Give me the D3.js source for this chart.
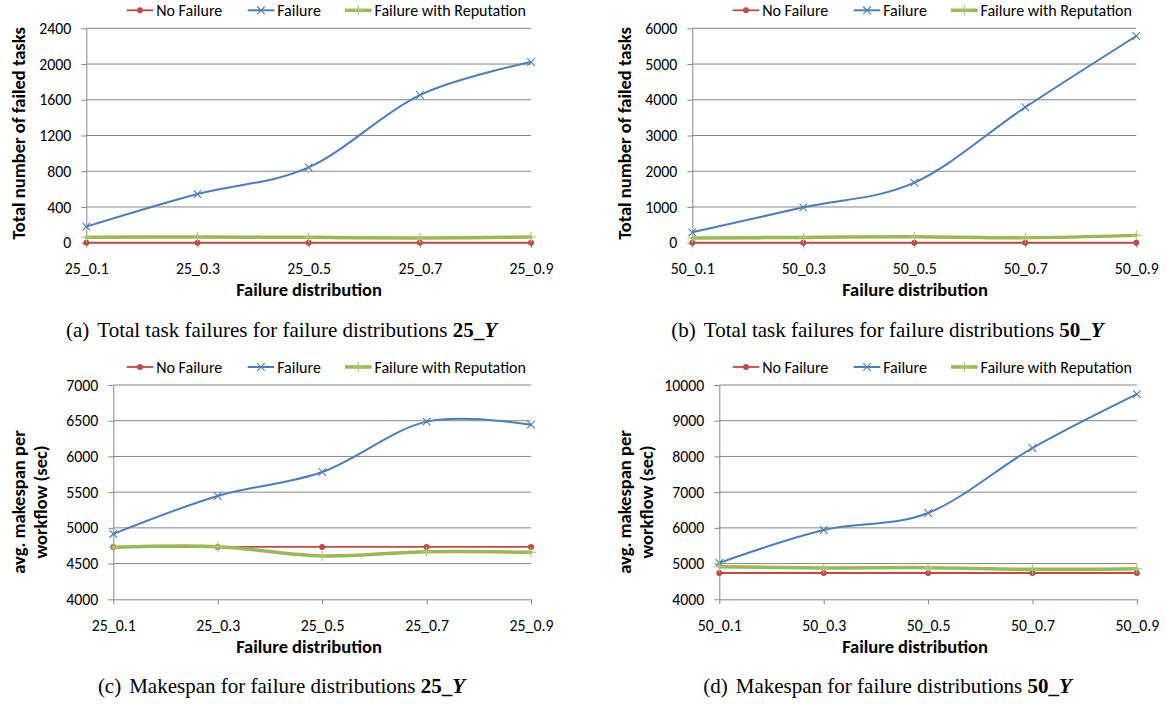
<!DOCTYPE html>
<html>
<head>
<meta charset="utf-8">
<script src="https://cdn.jsdelivr.net/npm/d3@7"></script>
<style>
  body { margin: 0; background: #fff; }
  svg { display: block; }
</style>
</head>
<body>
<svg id="fig" width="1167" height="704"></svg>
<script>

// ---- data ----
var categories25 = ["25_0.1", "25_0.3", "25_0.5", "25_0.7", "25_0.9"];
var categories50 = ["50_0.1", "50_0.3", "50_0.5", "50_0.7", "50_0.9"];

var seriesNames = ["No Failure", "Failure", "Failure with Reputation"];

// (a) total failed tasks, 25_Y
var failedNoFailure25 = [0, 0, 0, 0, 0];
var failedFailure25   = [180, 545, 843, 1653, 2022];
var failedRep25       = [62, 64, 60, 52, 63];

// (b) total failed tasks, 50_Y
var failedNoFailure50 = [0, 0, 0, 0, 0];
var failedFailure50   = [290, 990, 1680, 3790, 5785];
var failedRep50       = [131, 149, 168, 140, 205];

// (c) makespan, 25_Y
var makespanNoFailure25 = [4733, 4733, 4733, 4733, 4733];
var makespanFailure25   = [4915, 5446, 5782, 6487, 6445];
var makespanRep25       = [4728, 4737, 4607, 4667, 4658];

// (d) makespan, 50_Y
var makespanNoFailure50 = [4737, 4737, 4737, 4737, 4737];
var makespanFailure50   = [5020, 5940, 6417, 8236, 9745];
var makespanRep50       = [4914, 4877, 4886, 4840, 4857];

var ticksFailed25   = [0, 400, 800, 1200, 1600, 2000, 2400];
var ticksFailed50   = [0, 1000, 2000, 3000, 4000, 5000, 6000];
var ticksMakespan25 = [4000, 4500, 5000, 5500, 6000, 6500, 7000];
var ticksMakespan50 = [4000, 5000, 6000, 7000, 8000, 9000, 10000];

var titleFailed   = ["Total number of failed tasks"];
var titleMakespan = ["avg. makespan per", "workflow (sec)"];
var xTitle = "Failure distribution";

var captions = [
  ["(a)", "Total task failures for failure distributions ", "25_", "Y"],
  ["(b)", "Total task failures for failure distributions ", "50_", "Y"],
  ["(c)", "Makespan for failure distributions ", "25_", "Y"],
  ["(d)", "Makespan for failure distributions ", "50_", "Y"]
];

// ---- look ----
var colors = ["#BE4B48", "#4A7EBB", "#98B954"];
var lineWidths = [1.8, 2, 3.5];
var gridColor = "#868686";
var chartFont = "Carlito, Calibri, Lato, sans-serif";
var captionFont = "'Liberation Serif', 'Times New Roman', serif";

var svg = d3.select("#fig");
svg.append("rect").attr("width", 1167).attr("height", 704).attr("fill", "#fff");

var panels = [
  { ox: 0,   left: 86.3,  right: 531, top: 28.3, bottom: 242.7, cats: categories25,
    series: [failedNoFailure25, failedFailure25, failedRep25], ticks: ticksFailed25,
    yTitle: titleFailed, yTitleY: 133.5, caption: captions[0] },
  { ox: 606, left: 86.3,  right: 530.3, top: 28.3, bottom: 242.7, cats: categories50,
    series: [failedNoFailure50, failedFailure50, failedRep50], ticks: ticksFailed50,
    yTitle: titleFailed, yTitleY: 133.5, caption: captions[1] },
  { ox: 0,   left: 113.3, right: 531, top: 385, bottom: 599.3, cats: categories25,
    series: [makespanNoFailure25, makespanFailure25, makespanRep25], ticks: ticksMakespan25,
    yTitle: titleMakespan, yTitleY: 502, caption: captions[2] },
  { ox: 606, left: 113.3, right: 530.9, top: 385, bottom: 599.3, cats: categories50,
    series: [makespanNoFailure50, makespanFailure50, makespanRep50], ticks: ticksMakespan50,
    yTitle: titleMakespan, yTitleY: 502, caption: captions[3] }
];

// legend entry starts (relative to panel)
var legendStarts = [126.7, 247.7, 345];

function drawMarker(g, k, cx, cy){
  if (k == 0){
    g.append("circle").attr("cx", cx).attr("cy", cy).attr("r", 3)
      .attr("fill", colors[0]);
  }
  else if (k == 1){
    var s = 3.8;
    g.append("path")
      .attr("d", "M" + (cx - s) + "," + (cy - s) + "L" + (cx + s) + "," + (cy + s) +
                 "M" + (cx - s) + "," + (cy + s) + "L" + (cx + s) + "," + (cy - s))
      .attr("stroke", colors[1]).attr("stroke-width", 1.1).attr("fill", "none");
  }
  else {
    var s = 5;
    g.append("path")
      .attr("d", "M" + (cx - s) + "," + cy + "L" + (cx + s) + "," + cy +
                 "M" + cx + "," + (cy - s) + "L" + cx + "," + (cy + s))
      .attr("stroke", "#A9CB6A").attr("stroke-width", 1.1).attr("fill", "none");
  }
}

function drawPanel(p){
  var g = svg.append("g").attr("transform", "translate(" + p.ox + ",0)");

  var x = d3.scalePoint().domain(p.cats).range([p.left, p.right]);
  var y = d3.scaleLinear().domain([p.ticks[0], p.ticks[p.ticks.length - 1]]).range([p.bottom, p.top]);

  // gridlines
  g.append("g").selectAll("line")
    .data(p.ticks.slice(1))
    .enter().append("line")
      .attr("x1", p.left).attr("x2", p.right)
      .attr("y1", function(d){ return y(d); }).attr("y2", function(d){ return y(d); })
      .attr("stroke", gridColor).attr("stroke-width", 1);

  // axes
  var ya = g.append("g")
      .attr("transform", "translate(" + p.left + ",0)")
      .call(d3.axisLeft(y).tickValues(p.ticks).tickFormat(d3.format("d"))
              .tickSize(5).tickSizeOuter(0).tickPadding(10));
  var xa = g.append("g")
      .attr("transform", "translate(0," + p.bottom + ")")
      .call(d3.axisBottom(x).tickSize(5).tickSizeOuter(0).tickPadding(15));
  [ya, xa].forEach(function(a){
    a.attr("color", gridColor).attr("font-family", chartFont).attr("font-size", 15.8);
    a.selectAll("text").attr("fill", "#000");
  });

  // series
  var line = d3.line()
    .x(function(d, i){ return x(p.cats[i]); })
    .y(function(d){ return y(d); })
    .curve(d3.curveCardinal.tension(0));

  for (var k = 0 ; k < p.series.length ; k++){
    var data = p.series[k];
    g.append("path")
      .datum(data)
      .attr("fill", "none")
      .attr("stroke", colors[k])
      .attr("stroke-width", lineWidths[k])
      .attr("stroke-linejoin", "round")
      .attr("stroke-linecap", "round")
      .attr("d", line);
    for (var i = 0 ; i < data.length ; i++){
      drawMarker(g, k, x(p.cats[i]), y(data[i]));
    }
  }

  // legend
  var ly = p.top - 18;
  for (var k = 0 ; k < seriesNames.length ; k++){
    var lx = legendStarts[k];
    g.append("line")
      .attr("x1", lx).attr("x2", lx + 26.6).attr("y1", ly).attr("y2", ly)
      .attr("stroke", colors[k]).attr("stroke-width", lineWidths[k]);
    drawMarker(g, k, lx + 13.3, ly);
    g.append("text")
      .attr("x", lx + 29.5).attr("y", ly).attr("dy", "0.36em")
      .attr("font-family", chartFont).attr("font-size", 16)
      .text(seriesNames[k]);
  }

  // x axis title
  g.append("text")
    .attr("x", 309).attr("y", p.bottom + 47).attr("dy", "0.36em")
    .attr("text-anchor", "middle")
    .attr("font-family", chartFont).attr("font-size", 18.5).attr("font-weight", "bold")
    .text(xTitle);

  // y axis title
  var n = p.yTitle.length;
  var yt = g.append("text")
    .attr("transform", "translate(" + (n == 1 ? 18 : 29.5) + "," + p.yTitleY + ") rotate(-90)")
    .attr("text-anchor", "middle")
    .attr("font-family", chartFont).attr("font-size", 18.5).attr("font-weight", "bold");
  for (var j = 0 ; j < n ; j++){
    yt.append("tspan")
      .attr("x", 0)
      .attr("y", (j - (n - 1) / 2) * 21.5)
      .attr("dy", "0.36em")
      .text(p.yTitle[j]);
  }

  // caption
  var c = g.append("text")
    .attr("x", 281.5).attr("y", p.bottom + 94)
    .attr("text-anchor", "middle")
    .attr("font-family", captionFont).attr("font-size", 21);
  c.append("tspan").text(p.caption[0]);
  c.append("tspan").attr("dx", 8).text(p.caption[1]);
  c.append("tspan").attr("font-weight", "bold").text(p.caption[2]);
  c.append("tspan").attr("font-weight", "bold").attr("font-style", "italic").text(p.caption[3]);
}

panels.forEach(drawPanel);

</script>
</body>
</html>
